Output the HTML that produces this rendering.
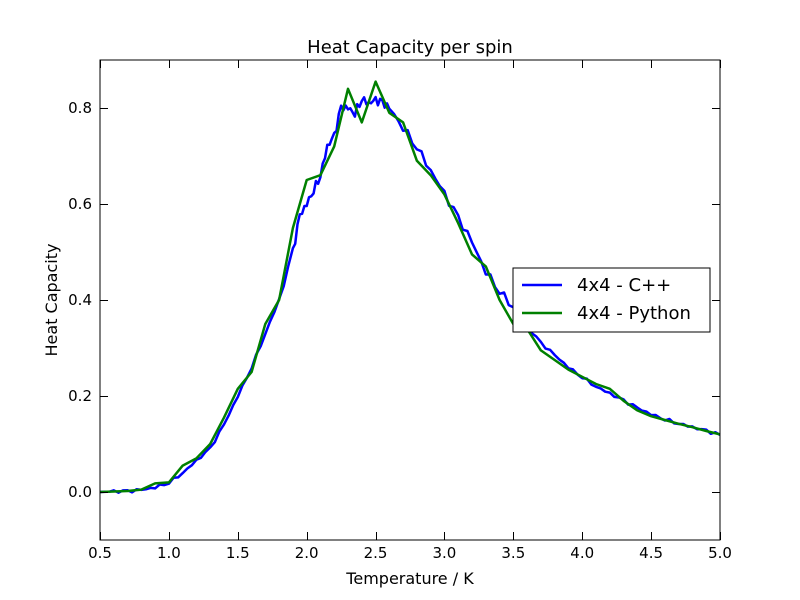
<!DOCTYPE html>
<html><head><meta charset="utf-8"><style>
body{margin:0;background:#fff;}
svg{display:block;font-family:"DejaVu Sans","Liberation Sans",sans-serif;}
</style></head><body>
<svg id="s" width="800" height="600" viewBox="0 0 800 600">
<rect width="800" height="600" fill="#fff"/>
<g id="curves"></g>
<rect x="100" y="60" width="620" height="480" fill="none" stroke="#000" stroke-width="1"/>
<g id="ticks" stroke="#000" stroke-width="1"></g>
<g id="labels" font-size="15" fill="#000"></g>
<text x="410" y="53" font-size="18" text-anchor="middle">Heat Capacity per spin</text>
<text x="410" y="584" font-size="16" text-anchor="middle">Temperature / K</text>
<text x="57" y="300" font-size="16" text-anchor="middle" transform="rotate(-90 57 300)">Heat Capacity</text>
<rect x="513" y="268" width="197" height="64" fill="#fff" stroke="#000" stroke-width="1"/>
<line x1="522" y1="285" x2="562" y2="285" stroke="#0000ff" stroke-width="2.5"/>
<line x1="522" y1="313" x2="562" y2="313" stroke="#008000" stroke-width="2.5"/>
<text x="577" y="291" font-size="18">4x4 - C++</text>
<text x="577" y="319" font-size="18">4x4 - Python</text>
</svg>
<script>
function X(t){return 100+(t-0.5)*620/4.5;}
function Y(c){return 492-c*480;}
var g=[[0.5,0],[0.7,0.002],[0.8,0.005],[0.9,0.018],[1.0,0.02],[1.1,0.055],[1.2,0.07],[1.3,0.1],[1.4,0.155],[1.5,0.215],[1.6,0.25],[1.7,0.35],[1.8,0.4],[1.9,0.55],[2.0,0.65],[2.1,0.66],[2.2,0.72],[2.3,0.84],[2.4,0.77],[2.5,0.855],[2.6,0.79],[2.7,0.77],[2.8,0.69],[2.9,0.66],[3.0,0.62],[3.1,0.56],[3.2,0.495],[3.3,0.47],[3.4,0.4],[3.5,0.35],[3.6,0.34],[3.7,0.295],[3.8,0.275],[3.9,0.255],[4.0,0.24],[4.1,0.225],[4.2,0.215],[4.3,0.19],[4.4,0.17],[4.5,0.158],[4.6,0.15],[4.7,0.142],[4.8,0.135],[4.9,0.127],[5.0,0.12]];
var b=[[0.5,0],[0.6,0.001],[0.7,0.001],[0.8,0.004],[0.9,0.01],[1.0,0.02],[1.1,0.04],[1.2,0.065],[1.3,0.09],[1.4,0.14],[1.5,0.2],[1.6,0.26],[1.7,0.33],[1.8,0.4],[1.9,0.5],[1.95,0.575],[2.0,0.6],[2.05,0.63],[2.1,0.66],[2.15,0.72],[2.2,0.74],[2.25,0.8],[2.3,0.8],[2.35,0.79],[2.4,0.82],[2.45,0.81],[2.5,0.815],[2.55,0.81],[2.6,0.8],[2.7,0.76],[2.8,0.72],[2.9,0.67],[3.0,0.62],[3.1,0.57],[3.2,0.52],[3.3,0.46],[3.4,0.42],[3.5,0.385],[3.6,0.345],[3.7,0.31],[3.8,0.285],[3.9,0.26],[4.0,0.24],[4.1,0.22],[4.2,0.205],[4.3,0.19],[4.4,0.175],[4.5,0.162],[4.6,0.152],[4.7,0.143],[4.8,0.135],[4.9,0.127],[5.0,0.119]];
var bd=[];
for(var i=0;i<b.length-1;i++){for(var k=0;k<3;k++){var f=k/3;var t=b[i][0]+(b[i+1][0]-b[i][0])*f;var c=b[i][1]+(b[i+1][1]-b[i][1])*f;var n=(t>1.8&&t<3.5)?0.008:0.003;c+=n*Math.sin(i*7.3+k*3.1);bd.push([t,c]);}}
bd.push(b[b.length-1]);
function pts(a){return a.map(function(p){return X(p[0]).toFixed(1)+","+Y(p[1]).toFixed(1);}).join(" ");}
var ns="http://www.w3.org/2000/svg";
var cv=document.getElementById("curves");
[[bd,"#0000ff"],[g,"#008000"]].forEach(function(d){var p=document.createElementNS(ns,"polyline");p.setAttribute("points",pts(d[0]));p.setAttribute("fill","none");p.setAttribute("stroke",d[1]);p.setAttribute("stroke-width","2.5");p.setAttribute("stroke-linejoin","round");cv.appendChild(p);});
var tk=document.getElementById("ticks"),lb=document.getElementById("labels");
function L(x1,y1,x2,y2){var l=document.createElementNS(ns,"line");l.setAttribute("x1",x1);l.setAttribute("y1",y1);l.setAttribute("x2",x2);l.setAttribute("y2",y2);tk.appendChild(l);}
function T(x,y,s,a){var t=document.createElementNS(ns,"text");t.setAttribute("x",x);t.setAttribute("y",y);t.setAttribute("text-anchor",a);t.textContent=s;lb.appendChild(t);}
for(var v=0.5;v<=5.001;v+=0.5){var x=Math.round(X(v))+0.5;L(x,540,x,532);L(x,60,x,68);T(X(v),558,v.toFixed(1),"middle");}
for(var c=0;c<=0.8001;c+=0.2){var y=Math.round(Y(c))+0.5;L(100,y,108,y);L(720,y,712,y);T(92,Y(c)+5,c.toFixed(1),"end");}
</script>
</body></html>
